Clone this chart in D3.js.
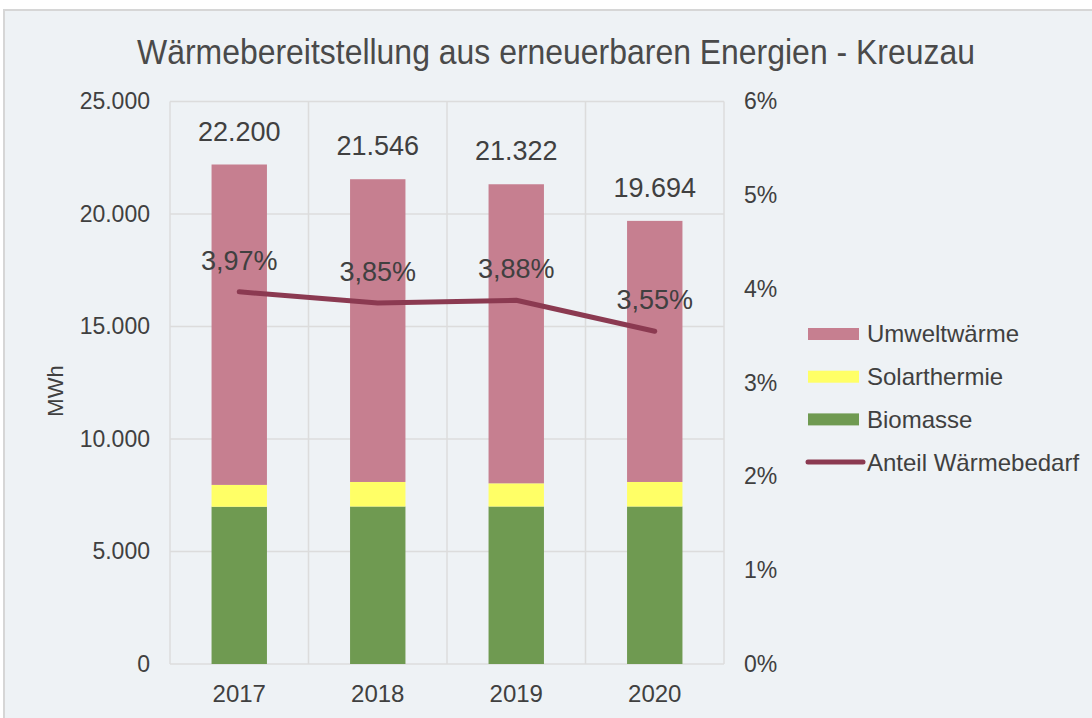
<!DOCTYPE html>
<html>
<head>
<meta charset="utf-8">
<script src="https://cdn.jsdelivr.net/npm/d3@7"></script>
<style>
  html, body { margin: 0; padding: 0; background: #fff; }
  svg { display: block; font-family: "Liberation Sans", Arial, sans-serif; }
</style>
</head>
<body>
<svg id="chart" width="1092" height="718"></svg>
<script>
// Data
const years = ['2017', '2018', '2019', '2020'];
const biomasse = [6990, 7000, 7000, 7000];
const solarthermie = [970, 1090, 1030, 1090];
const totals = [22200, 21546, 21322, 19694];
const umweltwaerme = totals.map((t, i) => t - biomasse[i] - solarthermie[i]);
const anteil = [3.97, 3.85, 3.88, 3.55];
const leftTicks = [0, 5000, 10000, 15000, 20000, 25000];
const rightTicks = [0, 1, 2, 3, 4, 5, 6];

const seriesNames = ['Biomasse', 'Solarthermie', 'Umweltwärme'];
const colors = { 'Biomasse': '#6f9a51', 'Solarthermie': '#ffff66', 'Umweltwärme': '#c67f90' };
const lineColor = '#8b3a51';
const textColor = '#404040';
const gridColor = '#dcdcdc';

const svg = d3.select('#chart');

// chart frame
svg.append('rect')
    .attr('x', 4).attr('y', 10)
    .attr('width', 1100).attr('height', 720)
    .attr('fill', '#eef2f5')
    .attr('stroke', '#d6d6d6').attr('stroke-width', 2);

// title (squeezed a bit, like the original)
svg.append('text')
    .attr('x', 137).attr('y', 64)
    .attr('fill', '#4a4a4a')
    .attr('textLength', 838)
    .attr('lengthAdjust', 'spacingAndGlyphs')
    .style('font-size', '35px')
    .text('Wärmebereitstellung aus erneuerbaren Energien - Kreuzau');

const plot = { left: 170, right: 724, top: 101.5, bottom: 664 };

const x = d3.scaleBand()
    .domain(years)
    .range([plot.left, plot.right])
    .paddingInner(0.6)
    .paddingOuter(0.3);
const band = d3.scaleBand().domain(years).range([plot.left, plot.right]);

const y = d3.scaleLinear().domain([0, 25000]).range([plot.bottom, plot.top]);
const y2 = d3.scaleLinear().domain([0, 6]).range([plot.bottom, plot.top]);

const fmt = d3.formatLocale({ decimal: ',', thousands: '.', grouping: [3], currency: ['', ''] });
const fmtInt = fmt.format(',d');
const fmtPct = fmt.format('.2f');

// gridlines
const grid = svg.append('g').attr('stroke', gridColor).attr('stroke-width', 1.5);
grid.selectAll('line.h')
    .data(leftTicks)
    .join('line')
    .attr('class', 'h')
    .attr('x1', plot.left).attr('x2', plot.right)
    .attr('y1', d => y(d)).attr('y2', d => y(d));
const vlines = years.map(d => band(d)).concat([plot.right]);
grid.selectAll('line.v')
    .data(vlines)
    .join('line')
    .attr('class', 'v')
    .attr('x1', d => d).attr('x2', d => d)
    .attr('y1', plot.top).attr('y2', plot.bottom);

// left axis
const yAxis = svg.append('g')
    .attr('transform', `translate(${plot.left},0)`)
    .call(d3.axisLeft(y).tickValues(leftTicks).tickSize(0).tickPadding(20).tickFormat(d => fmtInt(d)));
yAxis.select('.domain').remove();
yAxis.selectAll('text').attr('fill', textColor).style('font-size', '23px').attr('font-family', null);

// right axis
const y2Axis = svg.append('g')
    .attr('transform', `translate(${plot.right},0)`)
    .call(d3.axisRight(y2).tickValues(rightTicks).tickSize(0).tickPadding(20).tickFormat(d => d + '%'));
y2Axis.select('.domain').remove();
y2Axis.selectAll('text').attr('fill', textColor).style('font-size', '23px').attr('font-family', null);

// x axis
const xAxis = svg.append('g')
    .attr('transform', `translate(0,${plot.bottom})`)
    .call(d3.axisBottom(x).tickSize(0).tickPadding(21));
xAxis.select('.domain').remove();
xAxis.selectAll('text').attr('fill', textColor).style('font-size', '24px').attr('font-family', null);

// y axis title
svg.append('text')
    .attr('transform', 'translate(63,391) rotate(-90)')
    .attr('text-anchor', 'middle')
    .attr('fill', textColor)
    .style('font-size', '22px')
    .text('MWh');

// stacked bars
const rows = years.map((yr, i) => ({
    year: yr,
    'Biomasse': biomasse[i],
    'Solarthermie': solarthermie[i],
    'Umweltwärme': umweltwaerme[i]
}));
const stacked = d3.stack().keys(seriesNames)(rows);

svg.append('g')
    .selectAll('g')
    .data(stacked)
    .join('g')
    .attr('fill', d => colors[d.key])
    .selectAll('rect')
    .data(d => d)
    .join('rect')
    .attr('x', d => x(d.data.year))
    .attr('width', x.bandwidth())
    .attr('y', d => y(d[1]))
    .attr('height', d => y(d[0]) - y(d[1]));

// total labels
svg.append('g')
    .selectAll('text')
    .data(years)
    .join('text')
    .attr('x', d => x(d) + x.bandwidth() / 2)
    .attr('y', (d, i) => y(totals[i]) - 24)
    .attr('text-anchor', 'middle')
    .attr('fill', textColor)
    .style('font-size', '27px')
    .text((d, i) => fmtInt(totals[i]));

// share line
const line = d3.line()
    .x((d, i) => x(years[i]) + x.bandwidth() / 2)
    .y(d => y2(d));
svg.append('path')
    .datum(anteil)
    .attr('fill', 'none')
    .attr('stroke', lineColor)
    .attr('stroke-width', 5)
    .attr('stroke-linecap', 'round')
    .attr('stroke-linejoin', 'round')
    .attr('d', line);

svg.append('g')
    .selectAll('text')
    .data(anteil)
    .join('text')
    .attr('x', (d, i) => x(years[i]) + x.bandwidth() / 2)
    .attr('y', d => y2(d) - 22)
    .attr('text-anchor', 'middle')
    .attr('fill', textColor)
    .style('font-size', '27px')
    .text(d => fmtPct(d) + '%');

// legend
const legendItems = [
    { name: 'Umweltwärme', type: 'rect', color: colors['Umweltwärme'] },
    { name: 'Solarthermie', type: 'rect', color: colors['Solarthermie'] },
    { name: 'Biomasse', type: 'rect', color: colors['Biomasse'] },
    { name: 'Anteil Wärmebedarf', type: 'line', color: lineColor }
];
const legend = svg.append('g').attr('transform', 'translate(808,334)');
const item = legend.selectAll('g')
    .data(legendItems)
    .join('g')
    .attr('transform', (d, i) => `translate(0,${i * 42.7})`);
item.filter(d => d.type === 'rect')
    .append('rect')
    .attr('x', 0).attr('y', -6)
    .attr('width', 51).attr('height', 12)
    .attr('fill', d => d.color);
item.filter(d => d.type === 'line')
    .append('line')
    .attr('x1', 0).attr('x2', 55)
    .attr('y1', 0).attr('y2', 0)
    .attr('stroke', d => d.color)
    .attr('stroke-width', 5)
    .attr('stroke-linecap', 'round');
item.append('text')
    .attr('x', 59)
    .attr('dy', '0.35em')
    .attr('fill', textColor)
    .style('font-size', '24px')
    .text(d => d.name);
</script>
</body>
</html>
